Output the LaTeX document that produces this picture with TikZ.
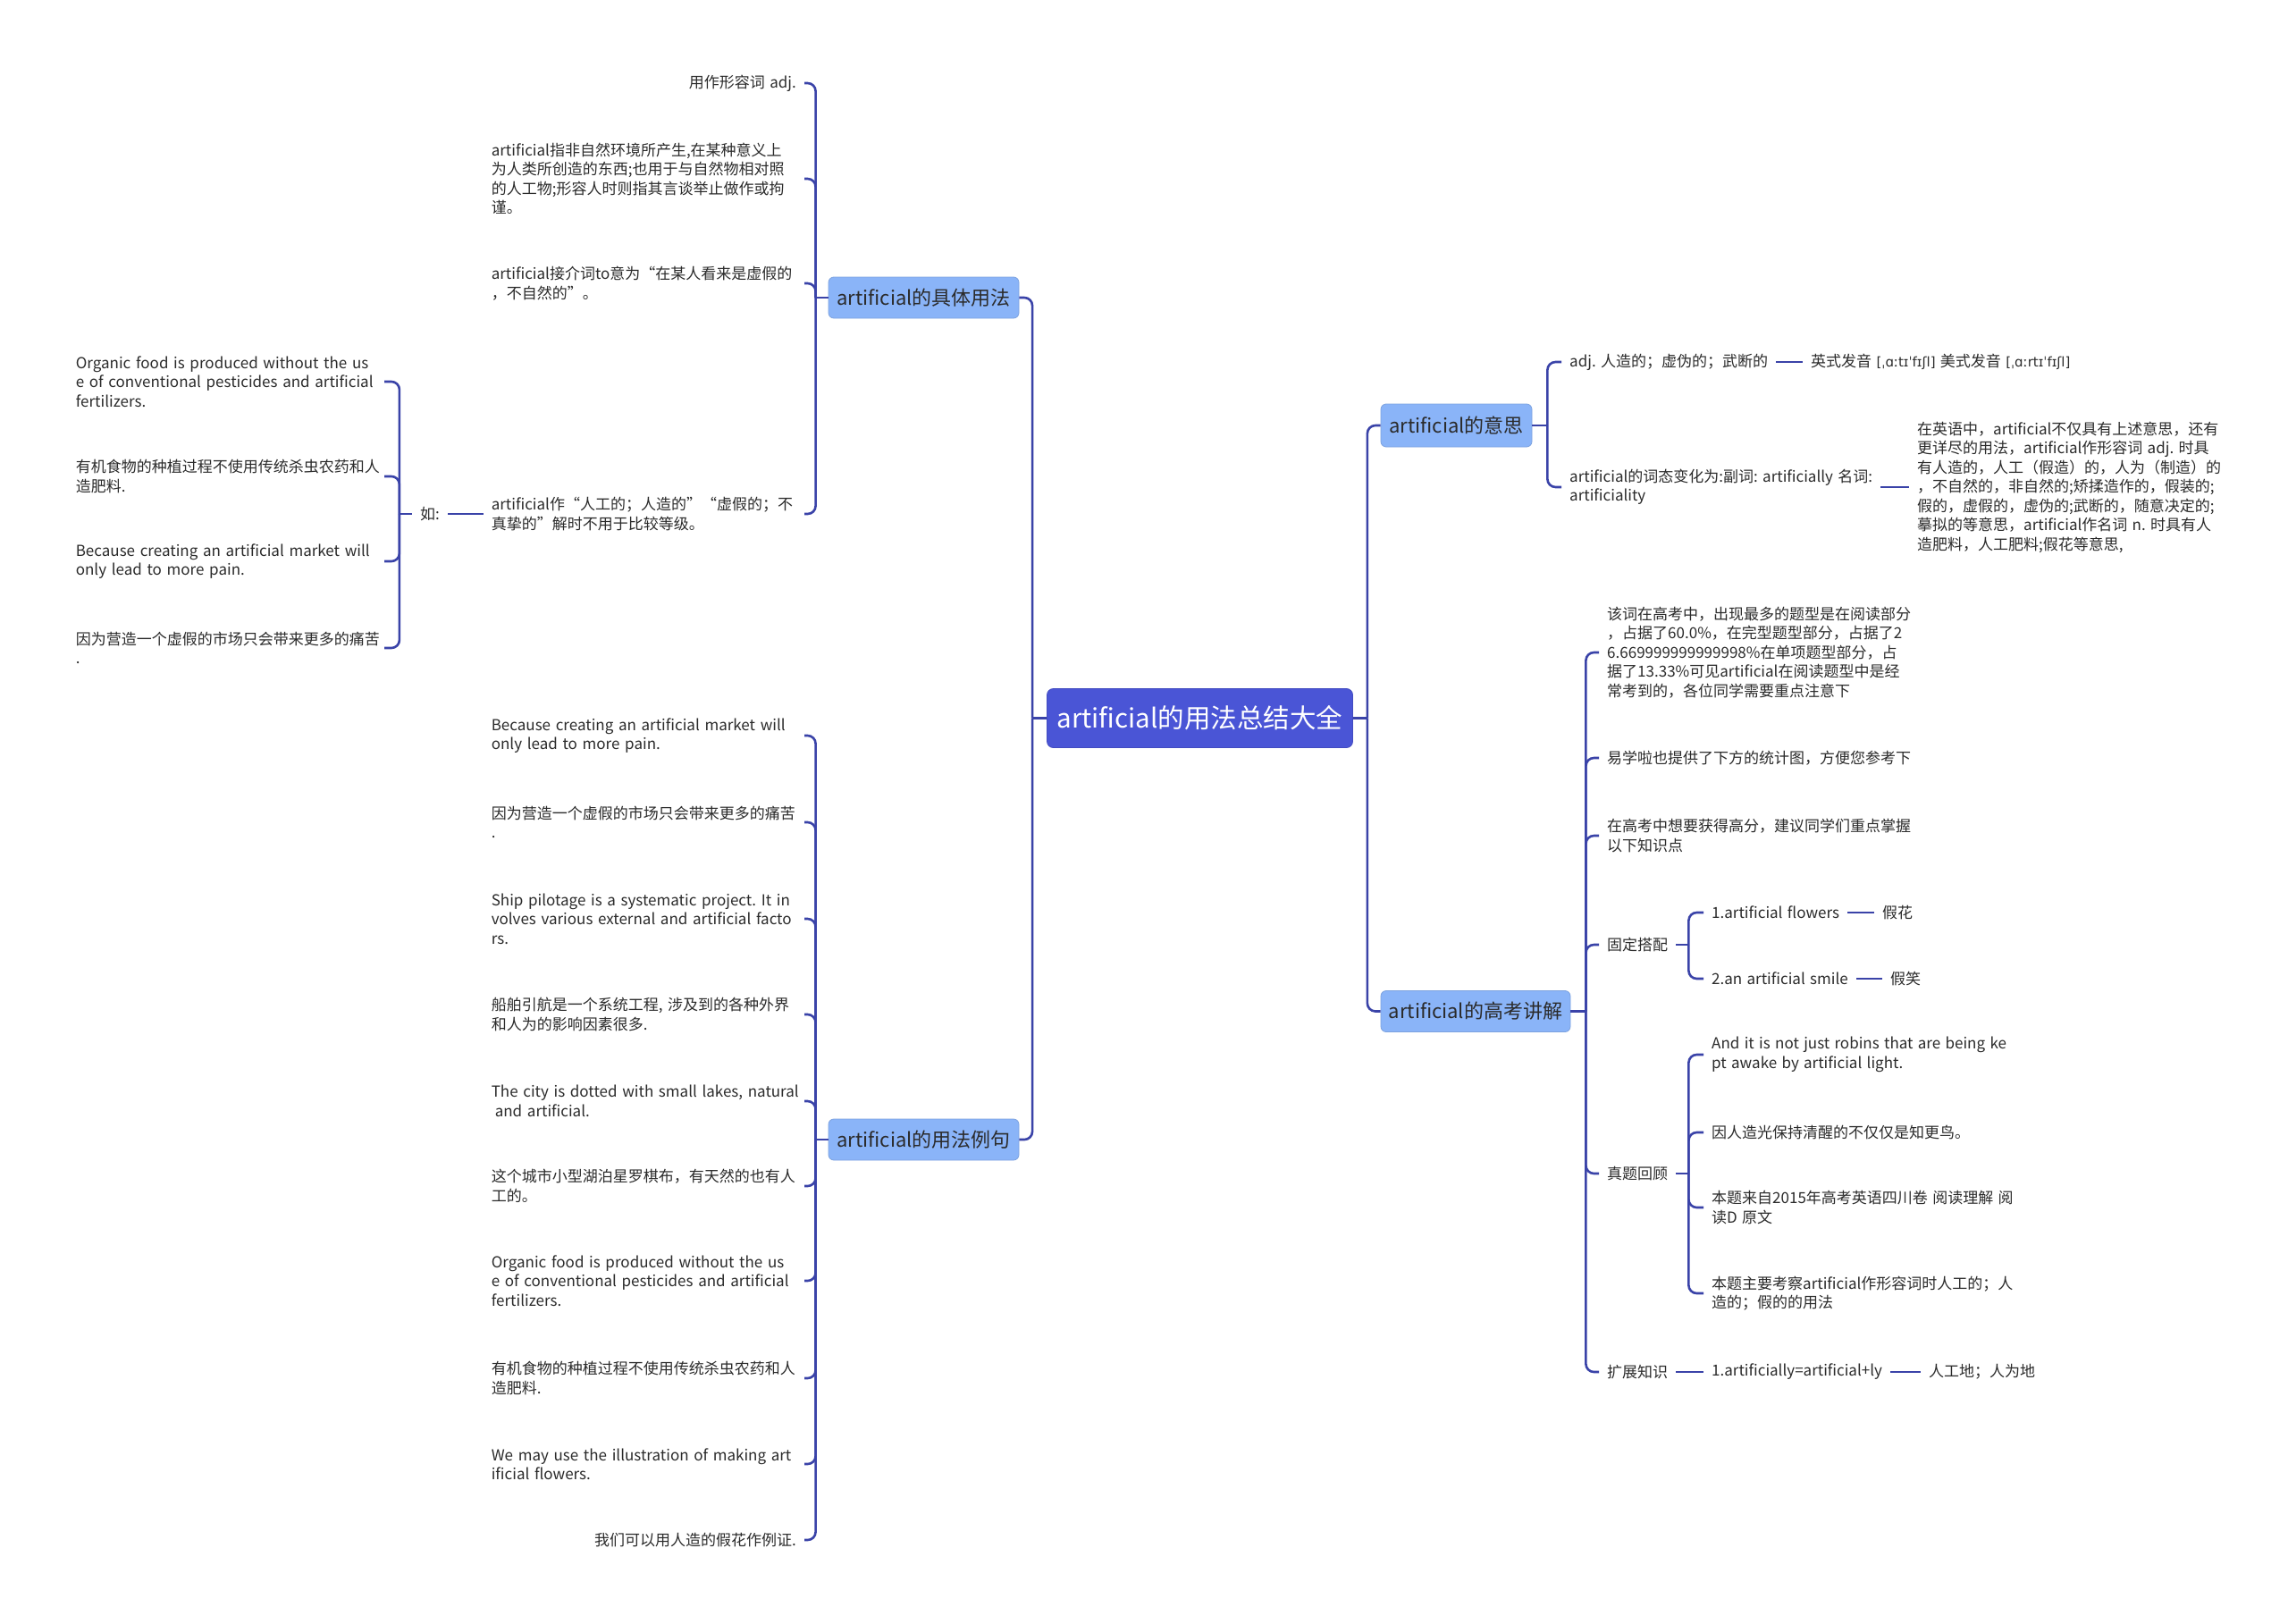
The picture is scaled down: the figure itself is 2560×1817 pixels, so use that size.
\documentclass[tikz,border=0pt]{standalone}
\usepackage{fontspec}
\setmainfont{Noto Sans CJK SC}[WordSpace=1.4]
\newfontfamily\ipafont{DejaVu Sans}
\definecolor{rootc}{HTML}{4A55D6}
\definecolor{brc}{HTML}{8AB4F8}
\definecolor{linec}{HTML}{3A43A8}
\definecolor{txt}{HTML}{2B2B2B}
\newcommand\linkL[2]{\draw[conn,rc] (#1) |- (#2.east);}
\newcommand\linkR[2]{\draw[conn,rc] (#1) |- (#2.west);}
\begin{document}
\frenchspacing
\begin{tikzpicture}[x=1pt,y=-1pt,
  conn/.style={draw=linec, line width=2.6pt},
  rc/.style={rounded corners=9pt},
  leaf/.style={font=\fontsize{17}{21.5}\selectfont, text=txt, inner xsep=9pt, inner ysep=3pt, align=left},
  lleaf/.style={leaf, anchor=east},
  lbox/.style={lleaf, text width=341pt},
  fbox/.style={lleaf, text width=336pt},
  rleaf/.style={leaf, anchor=west},
  branch/.style={fill=brc, draw=brc!90!black, line width=0.8pt, rounded corners=6pt, text=txt,
    font=\fontsize{22}{26}\selectfont, inner sep=0pt},
  rootbox/.style={fill=rootc, draw=rootc!90!black, line width=0.8pt, rounded corners=7pt, text=white,
    font=\fontsize{29.5}{34}\selectfont, inner sep=0pt, minimum width=342pt, minimum height=66pt}
]
\fill[white] (0,0) rectangle (2560,1817);
\useasboundingbox (0,0) rectangle (2560,1817);

% root and branches
\node[rootbox] (root) at (1342.5,803.5) {artificial的用法总结大全};
\node[branch, minimum width=213pt, minimum height=46pt] (b1) at (1033.5,333) {artificial的具体用法};
\node[branch, minimum width=213pt, minimum height=46pt] (b2) at (1033.5,1275) {artificial的用法例句};
\node[branch, minimum width=169pt, minimum height=48pt] (b3) at (1629.5,476) {artificial的意思};
\node[branch, minimum width=212pt, minimum height=46pt] (b4) at (1651,1131.5) {artificial的高考讲解};

\draw[conn] (root.west) -- ++(-16,0) coordinate (rootL);
\draw[conn] (root.east) -- ++(16,0) coordinate (rootR);
\linkL{rootL}{b1}
\linkL{rootL}{b2}
\linkR{rootR}{b3}
\linkR{rootR}{b4}

% branch 1 : 具体用法
\node[lleaf] (a1) at (900,93) {用作形容词 adj.};
\node[lbox] (a2) at (900,200) {artificial指非自然环境所产生,在某种意义上\\为人类所创造的东西;也用于与自然物相对照\\的人工物;形容人时则指其言谈举止做作或拘\\谨。};
\node[lbox] (a3) at (900,317) {artificial接介词to意为“在某人看来是虚假的\\，不自然的”。};
\node[lbox] (a4) at (900,575) {artificial作“人工的；人造的”“虚假的；不\\真挚的”解时不用于比较等级。};
\draw[conn] (b1.west) -- ++(-14,0) coordinate (b1L);
\linkL{b1L}{a1}
\linkL{b1L}{a2}
\linkL{b1L}{a3}
\linkL{b1L}{a4}

\node[leaf] (ru) at (481,575) {如:};
\draw[conn] (a4.west) -- (ru.east);
\node[fbox] (f1) at (430,427) {Organic food is produced without the us\\e of conventional pesticides and artificial\\fertilizers.};
\node[fbox] (f2) at (430,533) {有机食物的种植过程不使用传统杀虫农药和人\\造肥料.};
\node[fbox] (f3) at (430,628) {Because creating an artificial market will\\only lead to more pain.};
\node[fbox] (f4) at (430,725) {因为营造一个虚假的市场只会带来更多的痛苦\\.};
\draw[conn] (ru.west) -- ++(-14,0) coordinate (ruL);
\linkL{ruL}{f1}
\linkL{ruL}{f2}
\linkL{ruL}{f3}
\linkL{ruL}{f4}

% branch 2 : 用法例句
\node[lbox] (e1) at (900,823) {Because creating an artificial market will\\only lead to more pain.};
\node[lbox] (e2) at (900,920) {因为营造一个虚假的市场只会带来更多的痛苦\\.};
\node[lbox] (e3) at (900,1028) {Ship pilotage is a systematic project. It in\\volves various external and artificial facto\\rs.};
\node[lbox] (e4) at (900,1135) {船舶引航是一个系统工程, 涉及到的各种外界\\和人为的影响因素很多.};
\node[lbox] (e5) at (900,1232) {\mbox{The city is dotted with small lakes, natural}\\\hspace*{4pt}and artificial.};
\node[lbox] (e6) at (900,1327) {这个城市小型湖泊星罗棋布，有天然的也有人\\工的。};
\node[lbox] (e7) at (900,1433) {Organic food is produced without the us\\e of conventional pesticides and artificial\\fertilizers.};
\node[lbox] (e8) at (900,1542) {有机食物的种植过程不使用传统杀虫农药和人\\造肥料.};
\node[lbox] (e9) at (900,1638) {We may use the illustration of making art\\ificial flowers.};
\node[lleaf] (e10) at (900,1723) {我们可以用人造的假花作例证.};
\draw[conn] (b2.west) -- ++(-14,0) coordinate (b2L);
\foreach \n in {e1,e2,e3,e4,e5,e6,e7,e8,e9,e10} {\linkL{b2L}{\n}}

% branch 3 : 意思
\node[rleaf] (r11) at (1747,405) {adj. 人造的；虚伪的；武断的};
\node[rleaf] (r111) at (2017,405) {英式发音 {\ipafont\fontsize{15}{20}\selectfont[ˌɑːtɪˈfɪʃl]} 美式发音 {\ipafont\fontsize{15}{20}\selectfont[ˌɑːrtɪˈfɪʃl]}};
\node[rleaf] (r12) at (1747,545) {artificial的词态变化为:副词: artificially 名词:\\artificiality};
\node[rleaf] (r121) at (2136,545) {在英语中，artificial不仅具有上述意思，还有\\更详尽的用法，artificial作形容词 adj. 时具\\有人造的，人工（假造）的，人为（制造）的\\，不自然的，非自然的;矫揉造作的，假装的;\\假的，虚假的，虚伪的;武断的，随意决定的;\\摹拟的等意思，artificial作名词 n. 时具有人\\造肥料，人工肥料;假花等意思,};
\draw[conn] (b3.east) -- ++(17,0) coordinate (b3R);
\linkR{b3R}{r11}
\linkR{b3R}{r12}
\draw[conn] (r11.east) -- (r111.west);
\draw[conn] (r12.east) -- (r121.west);

% branch 4 : 高考讲解
\node[rleaf] (g1) at (1789,730) {该词在高考中，出现最多的题型是在阅读部分\\，占据了60.0\%，在完型题型部分，占据了2\\6.669999999999998\%在单项题型部分，占\\据了13.33\%可见artificial在阅读题型中是经\\常考到的，各位同学需要重点注意下};
\node[rleaf] (g2) at (1789,848) {易学啦也提供了下方的统计图，方便您参考下};
\node[rleaf] (g3) at (1789,935) {在高考中想要获得高分，建议同学们重点掌握\\以下知识点};
\node[rleaf] (g4) at (1789,1057) {固定搭配};
\node[rleaf] (g5) at (1789,1313) {真题回顾};
\node[rleaf] (g6) at (1789,1535) {扩展知识};
\draw[conn] (b4.east) -- ++(17,0) coordinate (b4R);
\foreach \n in {g1,g2,g3,g4,g5,g6} {\linkR{b4R}{\n}}

\node[rleaf] (g41) at (1906,1021) {1.artificial flowers};
\node[rleaf] (g411) at (2097,1021) {假花};
\node[rleaf] (g42) at (1906,1095) {2.an artificial smile};
\node[rleaf] (g421) at (2106,1095) {假笑};
\draw[conn] (g4.east) -- ++(14,0) coordinate (g4R);
\linkR{g4R}{g41}
\linkR{g4R}{g42}
\draw[conn] (g41.east) -- (g411.west);
\draw[conn] (g42.east) -- (g421.west);

\node[rleaf] (g51) at (1906,1180) {And it is not just robins that are being ke\\pt awake by artificial light.};
\node[rleaf] (g52) at (1906,1267) {因人造光保持清醒的不仅仅是知更鸟。};
\node[rleaf] (g53) at (1906,1351) {本题来自2015年高考英语四川卷 阅读理解 阅\\读D 原文};
\node[rleaf] (g54) at (1906,1447) {本题主要考察artificial作形容词时人工的；人\\造的；假的的用法};
\draw[conn] (g5.east) -- ++(14,0) coordinate (g5R);
\foreach \n in {g51,g52,g53,g54} {\linkR{g5R}{\n}}

\node[rleaf] (g61) at (1906,1535) {1.artificially=artificial+ly};
\node[rleaf] (g611) at (2149,1535) {人工地；人为地};
\draw[conn] (g6.east) -- (g61.west);
\draw[conn] (g61.east) -- (g611.west);
\end{tikzpicture}
\end{document}
